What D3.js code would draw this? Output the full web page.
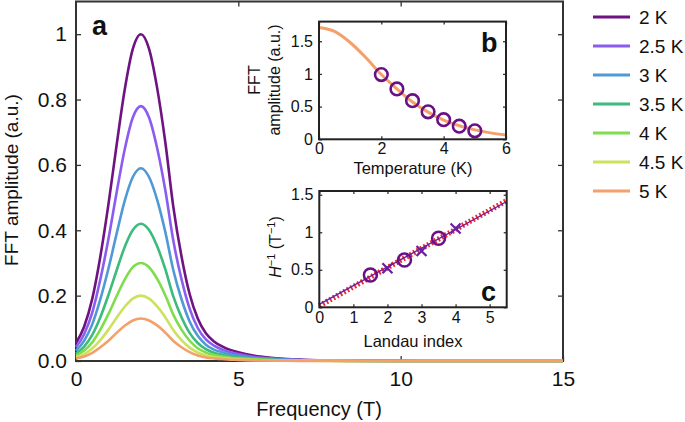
<!DOCTYPE html>
<html><head><meta charset="utf-8">
<script src="https://cdn.jsdelivr.net/npm/d3@7/dist/d3.min.js"></script>
<style>
body{margin:0;background:#fff}
text{font-family:"Liberation Sans",Arial,Helvetica,sans-serif;fill:#111}
</style>
</head><body>
<svg id="chart" width="685" height="422"></svg>
<script>
// ---------- data ----------
const seriesNames = ["2 K","2.5 K","3 K","3.5 K","4 K","4.5 K","5 K"];
const seriesColors = ["#6e1381","#8b5cf0","#4f9ad6","#3dbb7c","#7fdd4c","#cde25c","#f4a06a"];
const freq = [0,0.25,0.5,0.75,1,1.25,1.5,1.75,2,2.25,2.5,2.75,3,3.25,3.5,3.75,4,4.25,4.5,4.75,5,5.5,6,7,8,10,12,15];
const amp2K  = [0.055,0.105,0.19,0.32,0.48,0.66,0.83,0.955,1.0,0.955,0.835,0.67,0.47,0.32,0.205,0.13,0.085,0.06,0.045,0.034,0.027,0.016,0.01,0.004,0.0015,0.0003,0,0];
const amp25K = [0.043,0.082,0.148,0.25,0.374,0.515,0.647,0.745,0.78,0.745,0.651,0.523,0.367,0.25,0.16,0.101,0.066,0.047,0.035,0.027,0.021,0.012,0.008,0.003,0.0012,0.0002,0,0];
const amp3K  = [0.032,0.062,0.112,0.189,0.283,0.389,0.49,0.563,0.59,0.563,0.493,0.395,0.277,0.189,0.121,0.077,0.05,0.035,0.027,0.02,0.016,0.009,0.006,0.002,0.0009,0.0002,0,0];
const amp35K = [0.023,0.044,0.08,0.134,0.202,0.277,0.349,0.401,0.42,0.401,0.351,0.281,0.197,0.134,0.086,0.055,0.036,0.025,0.019,0.014,0.011,0.007,0.004,0.002,0.0006,0.0001,0,0];
const amp4K  = [0.017,0.032,0.057,0.096,0.144,0.198,0.249,0.287,0.30,0.287,0.251,0.201,0.141,0.096,0.062,0.039,0.026,0.018,0.014,0.01,0.008,0.005,0.003,0.001,0.0005,0.0001,0,0];
const amp45K = [0.012,0.021,0.038,0.064,0.096,0.132,0.166,0.191,0.20,0.191,0.167,0.134,0.094,0.064,0.041,0.026,0.017,0.012,0.009,0.007,0.005,0.003,0.002,0.001,0.0003,0.0001,0,0];
const amp5K  = [0.008,0.014,0.025,0.042,0.062,0.086,0.108,0.124,0.13,0.124,0.109,0.087,0.061,0.042,0.027,0.017,0.011,0.008,0.006,0.004,0.0035,0.002,0.0013,0.0005,0.0002,0,0,0];
const seriesValues = [amp2K,amp25K,amp3K,amp35K,amp4K,amp45K,amp5K];

const mainXTicks = [0,5,10,15];
const mainYTicks = [0,0.2,0.4,0.6,0.8,1];
const mainYTickLabels = ["0.0","0.2","0.4","0.6","0.8","1"];

// inset b
const fitTemp = [0,0.5,1,1.5,2,2.5,3,3.5,4,4.5,5,5.5,6];
const fitAmp  = [1.71,1.65,1.48,1.25,0.99,0.77,0.57,0.415,0.295,0.207,0.144,0.098,0.067];
const measTemp = [2,2.5,3,3.5,4,4.5,5];
const measAmp  = [0.99,0.77,0.59,0.42,0.30,0.20,0.13];
const bXTicks = [0,2,4,6];
const bYTicks = [0,0.5,1,1.5];
const bYTickLabels = ["0","0.5","1","1.5"];

// inset c
const circN = [1.5,2.5,3.5];
const circH = [0.43,0.63,0.92];
const crossN = [2,3,4];
const crossH = [0.52,0.75,1.05];
const fitN = [0,5.5];
const fitH = [0.04,1.41];
const dotN = [0,5.5];
const dotH = [0.02,1.42];
const cXTicks = [0,1,2,3,4,5];
const cYTicks = [0,0.5,1,1.5];
const cYTickLabels = ["0","0.5","1","1.5"];

// ---------- drawing ----------
const svg = d3.select("#chart");
const frameCol = "#333";

function styleAxis(g, fs){
  g.select(".domain").remove();
  g.selectAll(".tick line").attr("stroke", frameCol).attr("stroke-width",1.3);
  g.selectAll(".tick text").attr("fill","#111").style("font-size",fs+"px")
   .style("font-family",'"Liberation Sans",Arial,sans-serif');
}

// main panel
const X = d3.scaleLinear().domain([0,15]).range([76,563]);
const Y = d3.scaleLinear().domain([0,1.1]).range([361,1.5]);

const gm = svg.append("g");
gm.append("g").attr("transform","translate(0,361)")
  .call(d3.axisBottom(X).tickValues(mainXTicks).tickSize(-5).tickPadding(10).tickFormat(d3.format("d")))
  .call(g=>styleAxis(g,21));
gm.append("g").attr("transform","translate(0,1.5)")
  .call(d3.axisTop(X).tickValues([5,10]).tickSize(-5).tickFormat(""))
  .call(g=>styleAxis(g,21));
gm.append("g").attr("transform","translate(76,0)")
  .call(d3.axisLeft(Y).tickValues(mainYTicks).tickSize(-5).tickPadding(9).tickFormat((d,i)=>mainYTickLabels[i]))
  .call(g=>styleAxis(g,21));
gm.append("g").attr("transform","translate(563,0)")
  .call(d3.axisRight(Y).tickValues(mainYTicks).tickSize(-5).tickFormat(""))
  .call(g=>styleAxis(g,21));
gm.append("rect").attr("x",X(0)).attr("y",Y(1.1)).attr("width",X(15)-X(0)).attr("height",Y(0)-Y(1.1))
  .attr("fill","none").attr("stroke",frameCol).attr("stroke-width",2);

const line = d3.line().x((d,i)=>X(freq[i])).y(d=>Y(d)).curve(d3.curveMonotoneX);
seriesValues.forEach((vals,k)=>{
  gm.append("path").attr("d",line(vals)).attr("fill","none")
    .attr("stroke",seriesColors[k]).attr("stroke-width",2.6).attr("stroke-linejoin","round");
});

gm.append("text").attr("x",92).attr("y",35).style("font-size","27px").style("font-weight","bold").text("a");
gm.append("text").attr("x",319).attr("y",416).attr("text-anchor","middle").style("font-size","20px").text("Frequency (T)");
gm.append("text").attr("transform","translate(18,180) rotate(-90)").attr("text-anchor","middle").style("font-size","19px").text("FFT amplitude (a.u.)");

// legend
const leg = svg.append("g");
seriesNames.forEach((name,i)=>{
  const y = 17 + i*29;
  leg.append("line").attr("x1",593).attr("x2",630).attr("y1",y).attr("y2",y)
    .attr("stroke",seriesColors[i]).attr("stroke-width",3);
  leg.append("text").attr("x",639).attr("y",y+7).style("font-size","19px").text(name);
});

// inset b
const XB = d3.scaleLinear().domain([0,6]).range([319,506]);
const YB = d3.scaleLinear().domain([0,1.8]).range([139.3,21.6]);
const gb = svg.append("g");
gb.append("rect").attr("x",XB(0)).attr("y",YB(1.8)).attr("width",XB(6)-XB(0)).attr("height",YB(0)-YB(1.8)).attr("fill","#fff");
gb.append("g").attr("transform",`translate(0,${YB(0)})`)
  .call(d3.axisBottom(XB).tickValues(bXTicks).tickSize(-3).tickPadding(3).tickFormat(d3.format("d")))
  .call(g=>styleAxis(g,16));
gb.append("g").attr("transform",`translate(0,${YB(1.8)})`)
  .call(d3.axisTop(XB).tickValues(bXTicks).tickSize(-3).tickFormat(""))
  .call(g=>styleAxis(g,16));
gb.append("g").attr("transform",`translate(${XB(0)},0)`)
  .call(d3.axisLeft(YB).tickValues(bYTicks).tickSize(-3).tickPadding(6).tickFormat((d,i)=>bYTickLabels[i]))
  .call(g=>styleAxis(g,16));
gb.append("g").attr("transform",`translate(${XB(6)},0)`)
  .call(d3.axisRight(YB).tickValues(bYTicks).tickSize(-3).tickFormat(""))
  .call(g=>styleAxis(g,16));
gb.append("path").attr("d",d3.line().x((d,i)=>XB(fitTemp[i])).y(d=>YB(d)).curve(d3.curveMonotoneX)(fitAmp))
  .attr("fill","none").attr("stroke","#f4a06a").attr("stroke-width",3);
gb.selectAll("circle.m").data(measAmp).enter().append("circle")
  .attr("cx",(d,i)=>XB(measTemp[i])).attr("cy",d=>YB(d)).attr("r",6.3)
  .attr("fill","none").attr("stroke","#6a1086").attr("stroke-width",2.6);
gb.append("rect").attr("x",XB(0)).attr("y",YB(1.8)).attr("width",XB(6)-XB(0)).attr("height",YB(0)-YB(1.8))
  .attr("fill","none").attr("stroke","#222").attr("stroke-width",2);
gb.append("text").attr("x",481).attr("y",52).style("font-size","27px").style("font-weight","bold").text("b");
gb.append("text").attr("x",413).attr("y",174).attr("text-anchor","middle").style("font-size","16.5px").text("Temperature (K)");
gb.append("text").attr("transform","translate(260,80) rotate(-90)").attr("text-anchor","middle").style("font-size","16px").text("FFT");
gb.append("text").attr("transform","translate(280,80) rotate(-90)").attr("text-anchor","middle").style("font-size","16px").text("amplitude (a.u.)");

// inset c
const XC = d3.scaleLinear().domain([0,5.5]).range([319.3,506.7]);
const YC = d3.scaleLinear().domain([0,1.55]).range([307.3,191]);
const gc = svg.append("g");
gc.append("rect").attr("x",XC(0)).attr("y",YC(1.55)).attr("width",XC(5.5)-XC(0)).attr("height",YC(0)-YC(1.55)).attr("fill","#fff");
gc.append("g").attr("transform",`translate(0,${YC(0)})`)
  .call(d3.axisBottom(XC).tickValues(cXTicks).tickSize(-3).tickPadding(4).tickFormat(d3.format("d")))
  .call(g=>styleAxis(g,16));
gc.append("g").attr("transform",`translate(0,${YC(1.55)})`)
  .call(d3.axisTop(XC).tickValues(cXTicks).tickSize(-3).tickFormat(""))
  .call(g=>styleAxis(g,16));
gc.append("g").attr("transform",`translate(${XC(0)},0)`)
  .call(d3.axisLeft(YC).tickValues(cYTicks).tickSize(-3).tickPadding(6).tickFormat((d,i)=>cYTickLabels[i]))
  .call(g=>styleAxis(g,16));
gc.append("g").attr("transform",`translate(${XC(5.5)},0)`)
  .call(d3.axisRight(YC).tickValues(cYTicks).tickSize(-3).tickFormat(""))
  .call(g=>styleAxis(g,16));
const lineC = d3.line().x(d=>XC(d[0])).y(d=>YC(d[1]));
gc.append("path").attr("d",lineC(dotN.map((n,i)=>[n,dotH[i]])))
  .attr("fill","none").attr("stroke","#ec2a30").attr("stroke-width",5.5).attr("stroke-dasharray","1.8 2.2");
gc.append("path").attr("d",lineC(fitN.map((n,i)=>[n,fitH[i]])))
  .attr("fill","none").attr("stroke","#6a1fa0").attr("stroke-width",1.4);
gc.selectAll("circle.c").data(circH).enter().append("circle")
  .attr("cx",(d,i)=>XC(circN[i])).attr("cy",d=>YC(d)).attr("r",6.5)
  .attr("fill","none").attr("stroke","#6a1086").attr("stroke-width",2.5);
crossH.forEach((h,i)=>{
  const cx = XC(crossN[i]), cy = YC(h), s = 5;
  gc.append("path").attr("d",`M${cx-s},${cy+s}L${cx+s},${cy-s}M${cx-s},${cy-s}L${cx+s},${cy+s}`)
    .attr("stroke","#6a1fa0").attr("stroke-width",2.2).attr("fill","none");
});
gc.append("rect").attr("x",XC(0)).attr("y",YC(1.55)).attr("width",XC(5.5)-XC(0)).attr("height",YC(0)-YC(1.55))
  .attr("fill","none").attr("stroke","#222").attr("stroke-width",2);
gc.append("text").attr("x",481).attr("y",301).style("font-size","27px").style("font-weight","bold").text("c");
gc.append("text").attr("x",413).attr("y",347).attr("text-anchor","middle").style("font-size","16.5px").text("Landau index");
const hl = gc.append("text").attr("transform","translate(281,247) rotate(-90)").attr("text-anchor","middle").style("font-size","16px");
hl.append("tspan").style("font-style","italic").text("H");
hl.append("tspan").attr("dy",-6).style("font-size","11px").text("−1");
hl.append("tspan").attr("dy",6).text(" (T");
hl.append("tspan").attr("dy",-6).style("font-size","11px").text("−1");
hl.append("tspan").attr("dy",6).text(")");
</script>
</body></html>
